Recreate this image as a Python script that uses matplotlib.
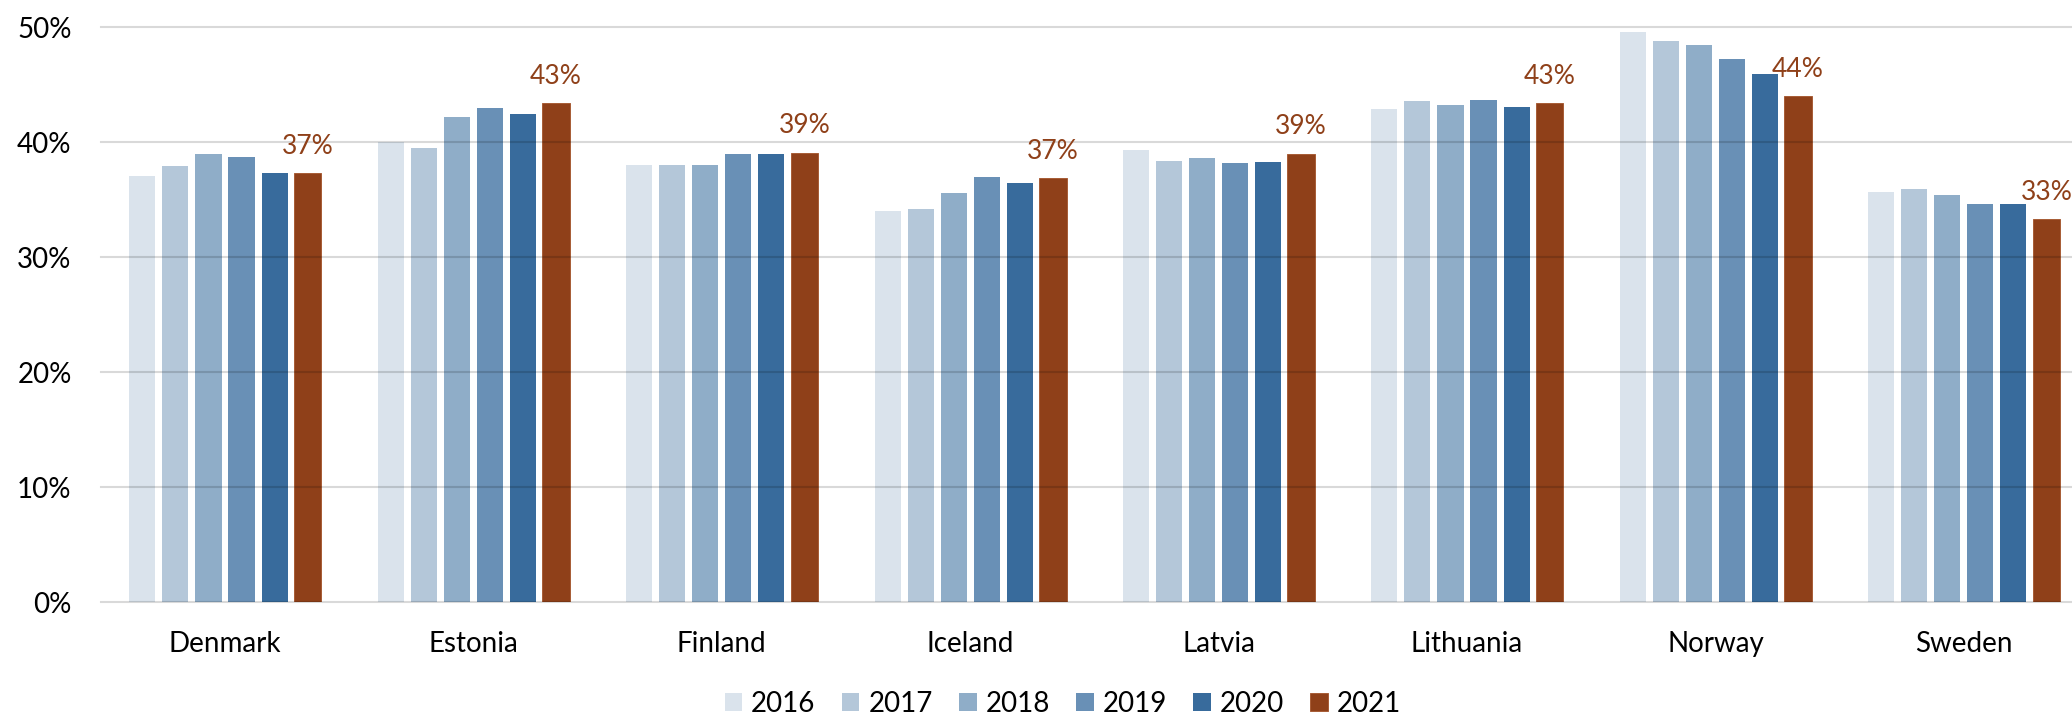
import matplotlib
matplotlib.use("Agg")
import matplotlib.pyplot as plt
from matplotlib.ticker import FuncFormatter
import numpy as np

plt.rcParams['font.family'] = ['Lato', 'DejaVu Sans']

countries = ["Denmark", "Estonia", "Finland", "Iceland", "Latvia", "Lithuania", "Norway", "Sweden"]
years = ["2016", "2017", "2018", "2019", "2020", "2021"]

v2016 = [37.1, 40.0, 38.0, 34.0, 39.3, 42.9, 49.6, 35.7]
v2017 = [37.9, 39.5, 38.0, 34.2, 38.4, 43.6, 48.8, 35.9]
v2018 = [39.0, 42.2, 38.0, 35.6, 38.6, 43.2, 48.5, 35.4]
v2019 = [38.7, 43.0, 39.0, 37.0, 38.2, 43.7, 47.2, 34.6]
v2020 = [37.3, 42.5, 39.0, 36.5, 38.3, 43.1, 45.9, 34.6]
v2021 = [37.3, 43.4, 39.1, 36.9, 39.0, 43.4, 44.0, 33.3]
series = [v2016, v2017, v2018, v2019, v2020, v2021]

colors = ["#dae3ec", "#b4c7d9", "#8fadc8", "#6990b6", "#386b9c", "#8f4019"]
label_color = "#8f4019"

fig = plt.figure(figsize=(20.72, 7.17), dpi=100)
ax = fig.add_axes([100.8 / 2072, (717 - 602.3) / 717, (2088 - 100.8) / 2072, (602.3 - 27.3) / 717])

x = np.arange(len(countries))
stride = 0.133
width = 0.105
for j, (yr, vals, c) in enumerate(zip(years, series, colors)):
    off = (j - 2.5) * stride
    if j == len(years) - 1:
        ax.bar(x + off, vals, width=width + 0.006, color=c, edgecolor="#a85c36", linewidth=0.7,
               label=yr, zorder=2)
    else:
        ax.bar(x + off, vals, width=width, color=c, label=yr, zorder=2)

last_off = 2.5 * stride
for xi, v in zip(x, v2021):
    ax.annotate(f"{v:.0f}%", xy=(xi + last_off, v), xytext=(0, 14), textcoords="offset points",
                ha="center", va="baseline", fontsize=19, color=label_color, zorder=5)

ax.set_xlim(-0.5, len(countries) - 0.5)
ax.set_ylim(0, 50)
ax.set_yticks([0, 10, 20, 30, 40, 50])
ax.yaxis.set_major_formatter(FuncFormatter(lambda v, p: f"{v:.0f}%"))
ax.set_xticks(x)
ax.set_xticklabels(countries)
ax.tick_params(axis="both", length=0, labelsize=20, colors="#000000")
ax.tick_params(axis="y", pad=21)
ax.tick_params(axis="x", pad=21)
for s in ax.spines.values():
    s.set_visible(False)
for gy in [0, 10, 20, 30, 40, 50]:
    ax.axhline(gy, color="black", alpha=0.15, linewidth=1.5, zorder=4, clip_on=False)

leg = fig.legend(loc="lower center", bbox_to_anchor=(0.513, 0.0), ncol=6, frameon=False,
                 fontsize=20, handlelength=0.63, handleheight=0.63, handletextpad=0.32,
                 columnspacing=0.95, borderpad=0, borderaxespad=0)

fig.savefig("out.png", dpi=100)
